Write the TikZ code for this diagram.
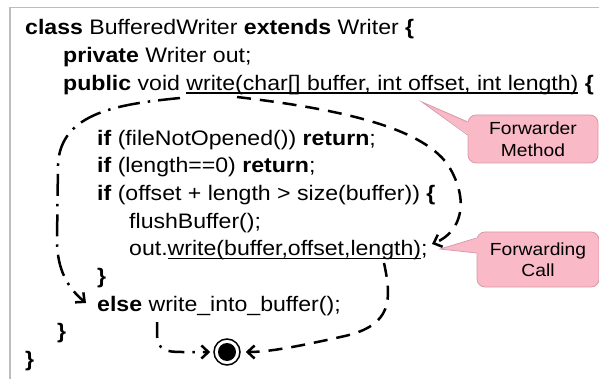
\documentclass[tikz,border=0pt]{standalone}
\usepackage{fontspec}
\setmainfont[FakeStretch=1.1]{Liberation Sans}
\usetikzlibrary{arrows.meta,calc}
\definecolor{calloutfill}{HTML}{F9B9C7}
\definecolor{calloutedge}{HTML}{D99AA8}
\definecolor{framegray}{HTML}{BDBDBD}
% underline drawn just below the baseline, across descenders
\newcommand\ulword[1]{\setbox0\hbox{#1}\rlap{\rule[-3.6pt]{\wd0}{1.6pt}}\box0}
\begin{document}
\begin{tikzpicture}[x=1pt,y=-1pt,
  code/.style={anchor=base west, inner sep=0pt, font=\fontsize{21}{25}\selectfont},
  note/.style={align=center, inner sep=0pt, font=\fontsize{17.5}{21.5}\selectfont,
    fill=calloutfill, draw=calloutedge, line width=0.8pt, rounded corners=8pt},
  flow/.style={line width=2.5pt, -{Straight Barb[length=7pt,width=13pt]}},
  dashflow/.style={flow, dash pattern=on 14pt off 9pt},
  dotflow/.style={flow, dash pattern=on 22pt off 8pt on 2.5pt off 8pt},
]
\useasboundingbox (0,0) rectangle (599,379);

% frame
\draw[framegray, line width=1.2pt] (599,7.5) -- (10,7.5) -- (10,379);

% source lines
\node[code] (l0)  at (25,35)    {\textbf{class} BufferedWriter \textbf{extends} Writer \textbf{\{}};
\node[code] (l1)  at (63,62.6)  {\textbf{private} Writer out;};
\node[code] (l2)  at (63,90.2)  {\textbf{public} void \ulword{write(char[] buffer, int offset, int length)}\ \textbf{\{}};
\node[code] (l3)  at (97,145.4) {\textbf{if} (fileNotOpened()) \textbf{return};};
\node[code] (l4)  at (97,173)   {\textbf{if} (length==0) \textbf{return};};
\node[code] (l5)  at (97,200.6) {\textbf{if} (offset + length > size(buffer)) \textbf{\{}};
\node[code] (l6)  at (129,228.2){flushBuffer();};
\node[code] (l7)  at (129,255.8){out.\ulword{write(buffer,offset,length)};};
\node[code] (l8)  at (97,283.4) {\textbf{\}}};
\node[code] (l9)  at (97,311)   {\textbf{else} write\_into\_buffer();};
\node[code] (l10) at (57,338.6) {\textbf{\}}};
\node[code] (l11) at (25,366.2) {\textbf{\}}};

% callouts
\node[note, minimum width=130pt, minimum height=48pt] (fm) at (533,139) {Forwarder\\Method};
\coordinate (fmtip) at (422,102);
\fill[calloutfill] ($(fm.west)+(1.5,-17)$) -- (fmtip) -- ($(fm.west)+(1.5,-4)$) -- cycle;
\draw[calloutedge, line width=0.8pt] ($(fm.west)+(0,-17)$) -- (fmtip) -- ($(fm.west)+(0,-4)$);

\node[note, minimum width=122pt, minimum height=55pt] (fc) at (538,259.5) {Forwarding\\Call};
\coordinate (fctip) at (440,249);
\fill[calloutfill] ($(fc.west)+(1.5,-21.5)$) -- (fctip) -- ($(fc.west)+(1.5,-6.5)$) -- cycle;
\draw[calloutedge, line width=0.8pt] ($(fc.west)+(0,-21.5)$) -- (fctip) -- ($(fc.west)+(0,-6.5)$);

% end state
\node[circle, draw, fill=white, line width=1.5pt, minimum size=26pt, inner sep=0pt] (stop) at (227,352) {};
\node[circle, fill=black, minimum size=18pt, inner sep=0pt] (stopdot) at (stop.center) {};

% control flow
\coordinate (m1) at (180,98);
\coordinate (elsein) at (86,303);
\draw[dotflow] (m1) .. controls (120,104) and (60,112) .. (58,165) -- (57,240)
  .. controls (57,270) and (68,288) .. (elsein);

\coordinate (m2) at (237,97);
\coordinate (callin) at (432,244);
\draw[dashflow] (m2) .. controls (330,108) and (420,125) .. (448,165)
  .. controls (470,200) and (462,232) .. (callin);

\coordinate (m3) at (384,263);
\draw[dashflow, shorten >=5pt] (m3) .. controls (392,300) and (392,325) .. (345,336)
  .. controls (300,346) and (270,352) .. (stop);

\coordinate (m4) at (157,322);
\draw[dotflow, dash pattern=on 16pt off 8pt on 2.5pt off 8pt, shorten >=3pt]
  (m4) -- (157,335) .. controls (158,350) and (165,352) .. (182,352) -- (stop);
\end{tikzpicture}
\end{document}
